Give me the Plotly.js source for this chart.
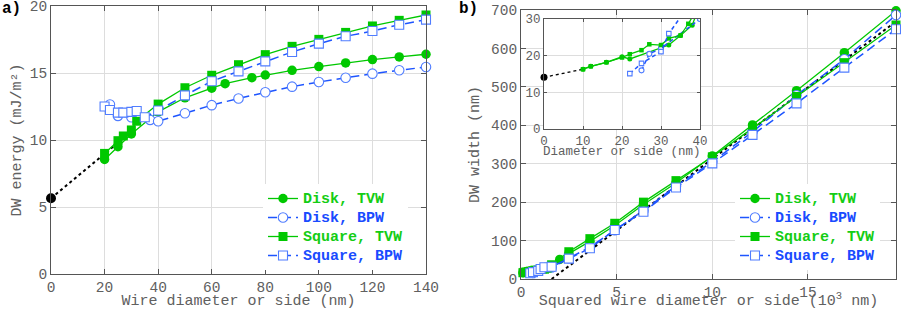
<!DOCTYPE html>
<html>
<head>
<meta charset="utf-8">
<script src="https://cdn.plot.ly/plotly-3.0.1.min.js"></script>
<style>html,body{margin:0;padding:0;background:#fff;}#chart{width:901px;height:310px;}</style>
</head>
<body>
<div id="chart"></div>
<script>
// ---------- Panel a) DW energy (mJ/m^2) vs wire diameter or side (nm) ----------
const diskTVW_d   = [20, 25, 30, 40, 50, 60, 65, 75, 80, 90, 100, 110, 120, 130, 140];
const diskTVW_E   = [8.55, 9.5, 10.45, 12.1, 13.15, 13.87, 14.2, 14.65, 14.85, 15.2, 15.48, 15.75, 16.0, 16.2, 16.4];
const diskBPW_d   = [22, 25, 30, 37, 40, 50, 60, 70, 80, 90, 100, 110, 120, 130, 140];
const diskBPW_E   = [12.65, 11.8, 11.7, 11.5, 11.4, 12.0, 12.6, 13.1, 13.56, 13.98, 14.33, 14.65, 14.95, 15.2, 15.45];
const squareTVW_d = [20, 25, 27, 30, 32, 40, 50, 60, 70, 80, 90, 100, 110, 120, 130, 140];
const squareTVW_E = [9.0, 9.95, 10.3, 10.75, 11.4, 12.68, 13.9, 14.83, 15.62, 16.37, 16.99, 17.51, 18.03, 18.51, 18.93, 19.33];
const squareBPW_d = [20, 22, 25, 27, 30, 32, 35, 40, 50, 60, 70, 80, 90, 100, 110, 120, 130, 140];
const squareBPW_E = [12.5, 12.24, 12.04, 12.04, 12.1, 12.16, 11.7, 12.2, 13.33, 14.38, 15.12, 15.87, 16.57, 17.19, 17.74, 18.13, 18.6, 18.98];
const fitE_d = [0, 28];
const fitE_E = [5.65, 10.3];

// ---------- Panel b) DW width (nm) vs diameter or side (nm) ----------
const diskTVW_wd   = [10, 12, 16, 20, 22, 30, 32, 35, 38, 40, 45, 50, 60, 70, 80, 90, 100, 110, 120, 130, 140];
const diskTVW_w    = [16.3, 17.1, 18.2, 19.7, 19.1, 22.2, 22.9, 25.5, 28.3, 34, 51, 66, 98, 139, 194, 250, 320, 401, 490, 589, 698];
const diskBPW_wd   = [25, 27, 30, 40, 50, 60, 70, 80, 90, 100, 110, 120, 130, 140];
const diskBPW_w    = [16.0, 20.5, 22.0, 30, 54, 83, 127, 178, 242, 305, 383, 478, 572, 687];
const squareTVW_wd = [10, 12, 16, 20, 22, 25, 27, 30, 32, 35, 37, 38, 40, 50, 60, 70, 80, 90, 100, 110, 120, 130, 140];
const squareTVW_w  = [16.3, 17.1, 18.2, 19.5, 20.4, 21.5, 23.1, 22.9, 24.7, 25.5, 28.7, 30.5, 37, 71, 105, 145, 200, 256, 318, 392, 475, 563, 661];
const squareBPW_wd = [22, 25, 30, 32, 35, 40, 50, 60, 70, 80, 90, 100, 110, 120, 130, 140];
const squareBPW_w  = [15.1, 17.9, 21.1, 26.0, 30.5, 32, 53, 80, 127.5, 175, 238, 301, 375, 457, 550, 650];
// linear fit of width vs squared size (x in 10^3 nm^2)
const fitW_x = [1.6, 19.6];
const fitW_w = [0, 670];
// extrapolation to zero size in the inset (nm)
const fitInset_d = [0, 10];
const fitInset_w = [14.1, 16.3];

const legendNames = ['Disk, TVW', 'Disk, BPW', 'Square, TVW', 'Square, BPW'];

// ---------- styles ----------
const GREEN = 'rgb(0,200,0)';
const BLUE = 'rgb(30,85,255)';
const BLUE_MK = 'rgb(80,125,255)';
const GREEN_TXT = 'rgb(20,205,20)';
const BLUE_TXT = 'rgb(25,75,255)';
const MONO = 'Liberation Mono, Courier New, monospace';
const sq = a => a.map(v => v * v / 1000);
const lname = (t, c) => '<span style="font-size:15px;color:' + c + '">' + t + '</span>';

function series(x, y, kind, xa, ya, legend, show, big) {
  const tvw = kind.tvw;
  const s = big ? 9 : 4.5;
  return {
    x: x, y: y, xaxis: xa, yaxis: ya, type: 'scatter', mode: 'lines+markers',
    name: lname(kind.name, tvw ? GREEN_TXT : BLUE_TXT),
    legend: legend, showlegend: show, cliponaxis: !big,
    line: tvw ? {color: GREEN, width: 1.3} : {color: BLUE, width: 1.5, dash: big ? '9px,5px' : '4px,3px'},
    marker: tvw ? {symbol: kind.sym, size: kind.sym === 'square' ? s : s + 0.5, color: GREEN}
                : {symbol: kind.sym, size: kind.sym === 'square' ? s : s + 0.5, color: 'white', line: {color: BLUE_MK, width: 1.1}}
  };
}
const K = [
  {name: legendNames[0], tvw: true,  sym: 'circle'},
  {name: legendNames[1], tvw: false, sym: 'circle'},
  {name: legendNames[2], tvw: true,  sym: 'square'},
  {name: legendNames[3], tvw: false, sym: 'square'}
];

const traces = [];
// panel a
traces.push({x: fitE_d, y: fitE_E, xaxis: 'x', yaxis: 'y', mode: 'lines', showlegend: false,
  line: {color: 'black', width: 2, dash: 'dot'}, hoverinfo: 'skip'});
traces.push(series(diskTVW_d, diskTVW_E, K[0], 'x', 'y', 'legend', true, true));
traces.push(series(diskBPW_d, diskBPW_E, K[1], 'x', 'y', 'legend', true, true));
traces.push(series(squareTVW_d, squareTVW_E, K[2], 'x', 'y', 'legend', true, true));
traces.push(series(squareBPW_d, squareBPW_E, K[3], 'x', 'y', 'legend', true, true));
traces.push({x: [fitE_d[0]], y: [fitE_E[0]], xaxis: 'x', yaxis: 'y', mode: 'markers', showlegend: false,
  cliponaxis: false, marker: {color: 'black', size: 10}});
// panel b main
traces.push({x: fitW_x, y: fitW_w, xaxis: 'x2', yaxis: 'y2', mode: 'lines', showlegend: false,
  line: {color: 'black', width: 2, dash: 'dot'}, hoverinfo: 'skip'});
traces.push(series(sq(diskTVW_wd), diskTVW_w, K[0], 'x2', 'y2', 'legend2', true, true));
traces.push(series(sq(diskBPW_wd), diskBPW_w, K[1], 'x2', 'y2', 'legend2', true, true));
traces.push(series(sq(squareTVW_wd), squareTVW_w, K[2], 'x2', 'y2', 'legend2', true, true));
traces.push(series(sq(squareBPW_wd), squareBPW_w, K[3], 'x2', 'y2', 'legend2', true, true));
// panel b inset
traces.push({x: fitInset_d, y: fitInset_w, xaxis: 'x3', yaxis: 'y3', mode: 'lines', showlegend: false,
  line: {color: 'black', width: 1.3, dash: 'dot'}, hoverinfo: 'skip'});
traces.push(series(diskTVW_wd, diskTVW_w, K[0], 'x3', 'y3', 'legend2', false, false));
traces.push(series(diskBPW_wd, diskBPW_w, K[1], 'x3', 'y3', 'legend2', false, false));
traces.push(series(squareTVW_wd, squareTVW_w, K[2], 'x3', 'y3', 'legend2', false, false));
traces.push(series(squareBPW_wd, squareBPW_w, K[3], 'x3', 'y3', 'legend2', false, false));
traces.push({x: [fitInset_d[0]], y: [fitInset_w[0]], xaxis: 'x3', yaxis: 'y3', mode: 'markers', showlegend: false,
  cliponaxis: false, marker: {color: 'black', size: 7}});

const W = 901, H = 310;
function ax(extra) {
  return Object.assign({
    showline: true, linecolor: '#555', linewidth: 1, mirror: 'ticks',
    ticks: 'inside', ticklen: 5, tickcolor: '#555', showgrid: true, gridcolor: '#dddddd', gridwidth: 1,
    zeroline: false, automargin: false, fixedrange: true, ticklabeloverflow: 'allow',
    tickfont: {family: MONO, size: 14.5, color: '#606060'}
  }, extra);
}
const titleFont = {family: MONO, size: 15, color: '#606060'};
const insetFont = {family: MONO, size: 12.5, color: '#606060'};

const layout = {
  width: W, height: H, margin: {l: 0, r: 0, t: 0, b: 0},
  paper_bgcolor: 'white', plot_bgcolor: 'white', hovermode: false,
  xaxis: ax({domain: [51 / W, 426 / W], range: [0, 140], dtick: 20, tick0: 0, anchor: 'y',
    title: {text: 'Wire diameter or side (nm)', font: titleFont}}),
  yaxis: ax({domain: [1 - 274 / H, 1 - 6 / H], range: [0, 20], dtick: 5, tick0: 0, anchor: 'x',
    title: {text: 'DW energy (mJ/m²)', font: titleFont, standoff: 4}}),
  xaxis2: ax({domain: [521 / W, 896 / W], range: [0, 19.6], dtick: 5, tick0: 0, anchor: 'y2',
    title: {text: 'Squared wire diameter or side (10<sup>3</sup> nm)', font: titleFont}}),
  yaxis2: ax({domain: [1 - 279 / H, 1 - 10 / H], range: [0, 700], dtick: 100, tick0: 0, anchor: 'x2',
    title: {text: 'DW width (nm)', font: titleFont, standoff: 7}}),
  xaxis3: ax({domain: [544 / W, 700 / W], range: [0, 40], dtick: 10, tick0: 0, anchor: 'y3', ticklen: 3,
    tickfont: insetFont}),
  yaxis3: ax({domain: [1 - 129 / H, 1 - 19 / H], range: [0, 30], dtick: 10, tick0: 0, anchor: 'x3', ticklen: 3,
    tickfont: insetFont}),
  legend: {x: 263 / W, y: 1 - 184 / H, xanchor: 'left', yanchor: 'top', bgcolor: 'white', borderwidth: 0,
    font: {family: MONO, size: 12, weight: 'bold'}, tracegroupgap: 0, itemclick: false},
  legend2: {x: 735 / W, y: 1 - 184 / H, xanchor: 'left', yanchor: 'top', bgcolor: 'white', borderwidth: 0,
    font: {family: MONO, size: 12, weight: 'bold'}, tracegroupgap: 0, itemclick: false},
  annotations: [
    {text: '<b>a)</b>', xref: 'paper', yref: 'paper', x: 0, y: 1, xanchor: 'left', yanchor: 'top',
      showarrow: false, font: {family: MONO, size: 16, color: 'black'}, yshift: 2},
    {text: '<b>b)</b>', xref: 'paper', yref: 'paper', x: 457 / W, y: 1, xanchor: 'left', yanchor: 'top',
      showarrow: false, font: {family: MONO, size: 16, color: 'black'}, yshift: 2},
    {text: 'Diameter or side (nm)', xref: 'paper', yref: 'paper', x: 622 / W, y: 1 - 152 / H,
      xanchor: 'center', yanchor: 'middle', showarrow: false, font: insetFont}
  ]
};

Plotly.newPlot('chart', traces, layout, {staticPlot: true, displayModeBar: false});
</script>
</body>
</html>
